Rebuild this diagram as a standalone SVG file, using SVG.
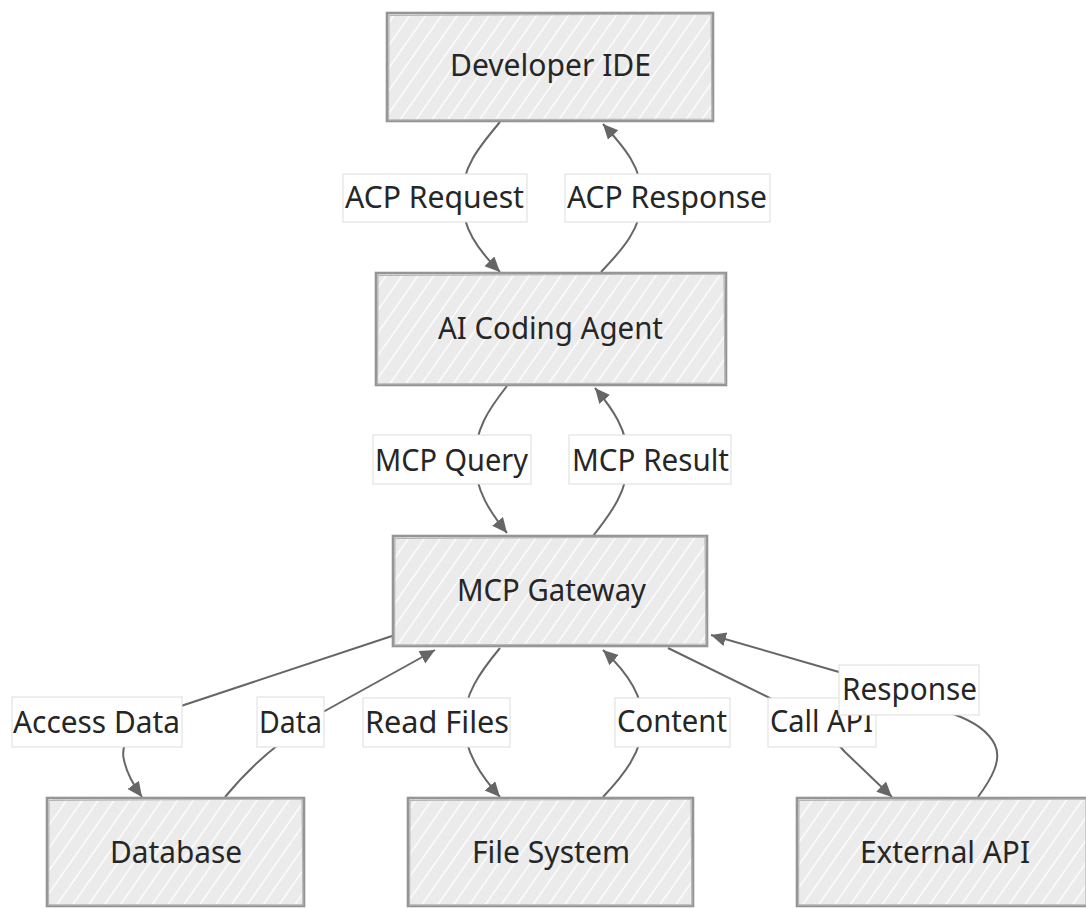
<svg xmlns="http://www.w3.org/2000/svg" width="1086" height="908" viewBox="0 0 1086 908">
  <defs>
    <!-- hand-drawn style hachure fill for the nodes -->
    <pattern id="hatch" patternUnits="userSpaceOnUse" width="13" height="13" patternTransform="rotate(35)">
      <rect width="13" height="13" fill="#ebebeb"/>
      <line x1="6.5" y1="0" x2="6.5" y2="13" stroke="#ffffff" stroke-width="1.3"/>
    </pattern>
    <marker id="arrow" markerUnits="userSpaceOnUse" markerWidth="18" markerHeight="16" refX="15" refY="7" orient="auto">
      <path d="M0,0 L15,7 L0,14 Z" fill="#666666"/>
    </marker>
  </defs>
  <style>
    .node rect { fill: url(#hatch); stroke: #959595; stroke-width: 2.6; }
    .node .edge2 { fill: none; stroke: #b5b5b5; stroke-width: 1.2; }
    .node text, .label text { font-family: "Noto Sans", "Open Sans", sans-serif; font-size: 31px; fill: #262626; text-anchor: middle; }
    .conn path { fill: none; stroke: #666666; stroke-width: 2; marker-end: url(#arrow); }
    .label rect { fill: #ffffff; stroke: #dddddd; stroke-width: 1; }
  </style>

  <rect width="1086" height="908" fill="#ffffff"/>

  <!-- connectors -->
  <g id="connectors" class="conn">
    <path d="M500,122 C478,148 462,168 462,198 C462,228 478,250 500,272"/>
    <path d="M601,272 C622,250 642,228 642,198 C642,168 625,148 603,124"/>
    <path d="M507,386 C488,410 475,430 475,460 C475,490 490,512 507,533"/>
    <path d="M593,536 C612,512 628,490 628,460 C628,430 612,408 595,388"/>
    <path d="M392,636 L175,708 C130,724 120,745 124,760 C127,775 134,786 142,797"/>
    <path d="M225,797 C240,779 256,762 278,745 C292,734 306,722 323,712 L435,650"/>
    <path d="M500,648 C480,672 464,695 464,722 C464,752 482,777 500,797"/>
    <path d="M603,797 C622,777 643,752 643,722 C643,695 625,670 603,650"/>
    <path d="M668,648 L790,708 C815,720 830,735 845,752 L892,797"/>
    <path d="M978,797 C992,778 1002,760 995,745 C988,730 970,720 953,714 L900,690 L839,672 L711,635"/>
  </g>

  <!-- connector labels -->
  <g id="label-acp-request" class="label">
    <rect x="343" y="174" width="184" height="48"/>
    <text x="434.5" y="208" textLength="179" lengthAdjust="spacingAndGlyphs">ACP Request</text>
  </g>
  <g id="label-acp-response" class="label">
    <rect x="565" y="174" width="205" height="48"/>
    <text x="667" y="208" textLength="200" lengthAdjust="spacingAndGlyphs">ACP Response</text>
  </g>
  <g id="label-mcp-query" class="label">
    <rect x="373" y="435" width="158" height="49"/>
    <text x="451.5" y="471" textLength="153" lengthAdjust="spacingAndGlyphs">MCP Query</text>
  </g>
  <g id="label-mcp-result" class="label">
    <rect x="569" y="435" width="162" height="49"/>
    <text x="650.5" y="471" textLength="157" lengthAdjust="spacingAndGlyphs">MCP Result</text>
  </g>
  <g id="label-access-data" class="label">
    <rect x="12" y="697" width="170" height="50"/>
    <text x="96.5" y="733" textLength="167" lengthAdjust="spacingAndGlyphs">Access Data</text>
  </g>
  <g id="label-data" class="label">
    <rect x="257" y="697" width="67" height="50"/>
    <text x="290.5" y="733" textLength="63" lengthAdjust="spacingAndGlyphs">Data</text>
  </g>
  <g id="label-read-files" class="label">
    <rect x="363" y="698" width="147" height="49"/>
    <text x="437" y="733" textLength="144" lengthAdjust="spacingAndGlyphs">Read Files</text>
  </g>
  <g id="label-content" class="label">
    <rect x="615" y="698" width="115" height="49"/>
    <text x="672" y="732" textLength="110" lengthAdjust="spacingAndGlyphs">Content</text>
  </g>
  <g id="label-call-api" class="label">
    <rect x="768" y="698" width="108" height="49"/>
    <text x="821.5" y="732" textLength="103" lengthAdjust="spacingAndGlyphs">Call API</text>
  </g>
  <g id="label-response" class="label">
    <rect x="839" y="665" width="140" height="50"/>
    <text x="909.5" y="700" textLength="135" lengthAdjust="spacingAndGlyphs">Response</text>
  </g>

  <!-- nodes -->
  <g id="node-developer-ide" class="node">
    <rect x="387" y="13" width="326" height="108"/>
    <path class="edge2" d="M389,15.5 L711,14 L712,119 L388.5,120 Z"/>
    <text x="550.5" y="76" textLength="201" lengthAdjust="spacingAndGlyphs">Developer IDE</text>
  </g>
  <g id="node-ai-coding-agent" class="node">
    <rect x="376" y="273" width="350" height="112"/>
    <path class="edge2" d="M378,275.5 L724,274 L725,383 L377.5,384 Z"/>
    <text x="550.5" y="339" textLength="225" lengthAdjust="spacingAndGlyphs">AI Coding Agent</text>
  </g>
  <g id="node-mcp-gateway" class="node">
    <rect x="393" y="536" width="314" height="110"/>
    <path class="edge2" d="M395,538.5 L705,537 L706,644 L394.5,645 Z"/>
    <text x="551.5" y="601" textLength="189" lengthAdjust="spacingAndGlyphs">MCP Gateway</text>
  </g>
  <g id="node-database" class="node">
    <rect x="47" y="798" width="257" height="108"/>
    <path class="edge2" d="M49,800.5 L302,799 L303,905 L48.5,905 Z"/>
    <text x="176" y="863" textLength="132" lengthAdjust="spacingAndGlyphs">Database</text>
  </g>
  <g id="node-file-system" class="node">
    <rect x="408" y="798" width="285" height="108"/>
    <path class="edge2" d="M410,800.5 L691,799 L692,905 L409.5,905 Z"/>
    <text x="551" y="863" textLength="158" lengthAdjust="spacingAndGlyphs">File System</text>
  </g>
  <g id="node-external-api" class="node">
    <rect x="797" y="798" width="292" height="108"/>
    <path class="edge2" d="M799,800.5 L1086,799 L1086,905 L798.5,905 Z"/>
    <text x="945" y="863" textLength="170" lengthAdjust="spacingAndGlyphs">External API</text>
  </g>
</svg>
